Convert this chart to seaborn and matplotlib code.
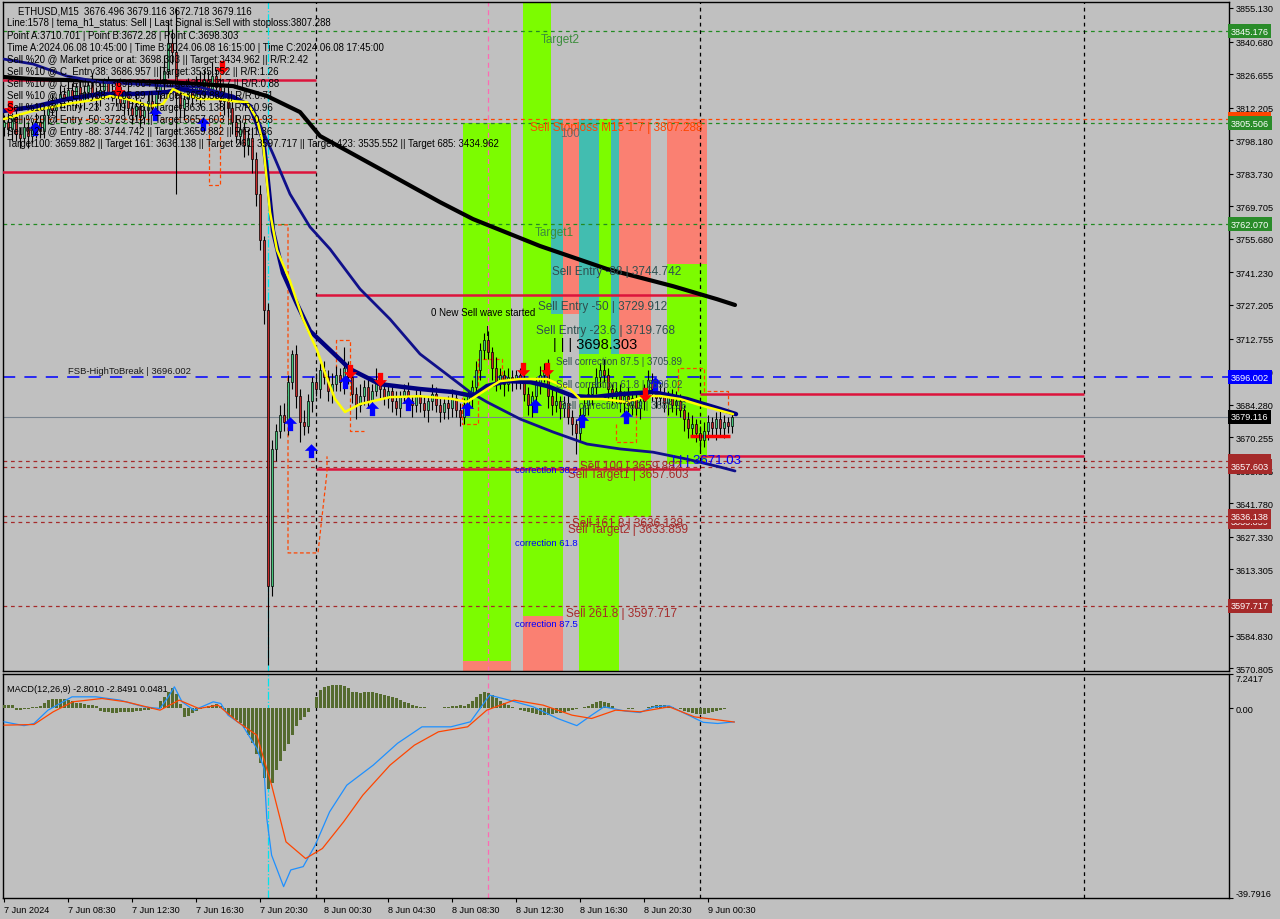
import numpy as np
import matplotlib
matplotlib.use("Agg")
import matplotlib.pyplot as plt
from matplotlib.patches import Rectangle
import matplotlib.transforms as mtrans
import seaborn as sns

sns.set_theme(style="ticks")
plt.rcParams["font.family"] = ["Liberation Sans", "DejaVu Sans"]

BG = "#C0C0C0"

# ---------------- data (ETHUSD M15, bar 0 = 7 Jun 04:30) ----------------
open0 = 3804.0
close = [
    3806, 3803, 3808, 3801, 3799, 3804, 3800, 3803, 3806, 3802,
    3809, 3813, 3811, 3815, 3818, 3816, 3820, 3817, 3821, 3815,
    3819, 3822, 3818, 3816, 3820, 3823, 3819, 3817, 3821, 3814,
    3818, 3812, 3809, 3813, 3808, 3811, 3815, 3812, 3818, 3822,
    3828, 3840, 3836, 3818, 3812, 3816, 3820, 3817, 3822, 3818,
    3824, 3820, 3826, 3821, 3815, 3818, 3812, 3806, 3800, 3803,
    3796, 3799, 3790, 3775, 3755, 3725, 3606, 3665, 3673, 3680,
    3677, 3694, 3706, 3688, 3677, 3675, 3686, 3694, 3691, 3699,
    3696, 3690, 3693, 3697, 3694, 3700, 3696, 3689, 3684, 3688,
    3692, 3686, 3690, 3695, 3691, 3687, 3690, 3686, 3683, 3688,
    3690, 3686, 3684, 3688, 3685, 3682, 3686, 3689, 3684, 3681,
    3685, 3683, 3687, 3682, 3679, 3684, 3688, 3692, 3699, 3708,
    3712, 3707, 3700, 3694, 3697, 3693, 3696, 3694, 3697, 3695,
    3689, 3684, 3688, 3693, 3697, 3699, 3688, 3684, 3686, 3683,
    3685, 3679, 3676, 3672, 3680, 3684, 3689, 3692, 3696, 3699,
    3697, 3691, 3688, 3690, 3685, 3688, 3684, 3687, 3683, 3686,
    3690, 3695, 3691, 3687, 3689, 3685, 3688, 3684, 3686, 3682,
    3678, 3674, 3676, 3672, 3669, 3673, 3677, 3674, 3678, 3674,
    3677, 3675, 3679.116,
]
wick_up = [
    3, 4, 2, 5, 3, 4, 2, 3, 4, 3, 4, 3, 5, 2, 4, 3, 5, 3, 2, 4,
    3, 2, 5, 3, 4, 2, 3, 5, 3, 4, 2, 4, 3, 5, 3, 2, 4, 3, 6, 8,
    7, 10, 6, 19, 4, 3, 5, 3, 4, 6, 5, 4, 6, 3, 4, 3, 5, 4, 3, 4,
    3, 4, 5, 3, 4, 2, 3, 4, 3, 4, 5, 3, 2, 4, 3, 5, 3, 2, 4, 3,
    4, 3, 5, 4, 3, 9, 3, 4, 3, 5, 3, 4, 3, 5, 2, 4, 3, 3, 4, 2,
    3, 4, 2, 3, 4, 3, 2, 4, 3, 3, 2, 3, 4, 2, 3, 3, 2, 3, 4, 3,
    3, 4, 2, 5, 3, 2, 4, 3, 2, 3, 4, 3, 2, 3, 4, 3, 5, 3, 4, 2,
    3, 4, 3, 2, 3, 4, 3, 2, 4, 3, 5, 3, 2, 4, 3, 2, 4, 3, 3, 2,
    3, 4, 3, 2, 4, 3, 2, 3, 4, 3, 2, 3, 4, 2, 3, 4, 3, 2, 3, 4,
    3, 2, 2,
]
wick_dn = [
    4, 3, 5, 3, 4, 2, 5, 3, 4, 3, 3, 4, 2, 5, 3, 4, 2, 3, 5, 3,
    4, 3, 2, 5, 3, 4, 3, 2, 4, 3, 5, 3, 4, 2, 4, 3, 5, 3, 4, 3,
    4, 3, 5, 43, 4, 5, 3, 4, 2, 5, 3, 4, 2, 5, 3, 6, 4, 5, 3, 4,
    5, 4, 6, 5, 4, 6, 34, 4, 5, 3, 4, 6, 3, 5, 9, 4, 3, 5, 3, 4,
    3, 4, 5, 3, 4, 5, 3, 4, 6, 3, 4, 3, 5, 2, 4, 3, 4, 5, 3, 4,
    3, 4, 5, 3, 4, 3, 5, 4, 3, 4, 3, 5, 4, 3, 4, 3, 4, 5, 3, 4,
    4, 3, 5, 4, 3, 5, 3, 4, 3, 4, 3, 4, 5, 3, 4, 3, 5, 4, 3, 5,
    4, 3, 5, 9, 4, 3, 4, 5, 3, 4, 3, 5, 4, 3, 4, 5, 3, 4, 3, 5,
    4, 3, 5, 4, 3, 4, 5, 3, 4, 3, 5, 4, 3, 4, 5, 3, 4, 3, 5, 3,
    4, 3, 3,
]

# indicator lines, read as (bar, price) knots
yellow_bar = [0, 7.25, 15.75, 24, 26.5, 30.75, 36.5, 39.75, 42.25, 44.75, 49, 54, 57.25,
              60.75, 63.25, 64.75, 66.5, 68.25, 71.5, 74.75, 78.25, 80.25, 82.75, 85.25,
              89, 96.5, 104, 112.25, 115.75, 120.75, 124, 129, 135.75, 141.5, 144,
              149.75, 155.75, 160.75, 164, 169, 174.75, 182.25]
yellow_val = [3807.3, 3810.8, 3813.8, 3815.9, 3817.2, 3815.9, 3812.9, 3813.8, 3820.2, 3818.1,
              3815.9, 3815.9, 3815.0, 3814.6, 3807.3, 3797.0, 3767.2, 3750.9, 3737.5, 3721.1,
              3707.8, 3697.9, 3686.7, 3681.1, 3684.5, 3687.5, 3687.9, 3686.7, 3685.4, 3691.0,
              3694.4, 3695.3, 3695.3, 3691.0, 3686.7, 3686.7, 3685.4, 3688.0, 3688.0, 3686.7,
              3683.7, 3680.2]
navy_fast_bar = [0, 7.25, 15.75, 24, 32.25, 40.75, 44, 49, 57.25, 61.5, 64.75, 65.75, 67.25,
                 69.75, 73.25, 76.5, 81.5, 86.5, 94, 104, 112.25, 117.25, 120.75, 125.75,
                 131.5, 135.75, 142.25, 147.25, 154, 162.25, 170.75, 179, 183]
navy_fast_val = [3810.8, 3812.5, 3815.9, 3818.1, 3818.1, 3818.9, 3820.2, 3818.9, 3816.8, 3812.9,
                 3798.7, 3784.5, 3759.0, 3741.0, 3727.6, 3716.0, 3707.8, 3699.6, 3693.1, 3691.0,
                 3689.7, 3688.0, 3692.3, 3694.4, 3694.0, 3692.3, 3688.0, 3687.5, 3688.8, 3689.7,
                 3686.7, 3682.4, 3680.2]
navy_slow_bar = [0, 7.25, 15.75, 24, 32.25, 40.75, 49, 57.25, 62.25, 67.25, 71.5, 76.5, 81.5,
                 89, 96.5, 104, 112.25, 116.5, 120.75, 129, 137.25, 145.75, 154, 162.25,
                 170.75, 179, 182.75]
navy_slow_val = [3833.1, 3831.0, 3825.8, 3823.2, 3822.4, 3821.5, 3821.1, 3817.2, 3811.6, 3792.2,
                 3775.0, 3760.8, 3751.3, 3734.1, 3721.1, 3706.1, 3695.3, 3689.7, 3685.4, 3678.1,
                 3672.5, 3667.3, 3665.2, 3663.8, 3660.8, 3657.4, 3655.7]
black_bar = [0, 7.25, 24, 40.75, 57.25, 65.75, 74, 79, 94, 109, 117.25, 134, 150.75, 167.25,
             178.25, 182.75]
black_val = [3825.4, 3824.5, 3823.7, 3823.2, 3821.5, 3817.2, 3810.3, 3800.0, 3785.8, 3771.5,
             3764.2, 3752.6, 3742.7, 3735.3, 3729.7, 3727.2]

# signal arrows (bar, price)
sell_bar = [1.5, 28.5, 54.5, 86.5, 94, 129.75, 135.75, 160.25]
sell_val = [3812.5, 3820.2, 3829.7, 3698.7, 3695.3, 3699.6, 3699.6, 3688.9]
buy_bar = [7.75, 37.75, 49.75, 71.5, 76.75, 85.25, 92, 101, 115.75, 132.75, 144.5, 155.5, 162.75]
buy_val = [3803.0, 3809.5, 3805.2, 3675.9, 3664.3, 3694.0, 3682.4, 3684.6, 3682.4, 3683.7,
           3677.2, 3679.0, 3693.2]

# levels
green_levels = [3845.176, 3805.506, 3762.070]
stop_level = 3807.288
brown_levels = [3659.882, 3657.603, 3636.138, 3633.859, 3597.717]
fsb_level = 3696.002
last_price = 3679.116
# daily high / low segments: start bar, end bar, price
day_start = [-2, -2, 78, 78, 174, 174]
day_end = [78, 78, 174, 174, 270, 270]
day_price = [3824.1, 3784.5, 3731.5, 3656.5, 3688.8, 3662.1]

# zones: left bar, right bar, bottom price, top price
lime_zones = [(114.75, 126.75, 3573.8, 3805.6), (129.75, 136.75, 3593.2, 3858.0),
              (136.75, 139.75, 3593.2, 3723.3), (143.75, 148.75, 3569.0, 3706.1),
              (148.75, 153.75, 3569.0, 3807.3), (153.75, 161.75, 3635.9, 3706.1),
              (165.75, 175.75, 3658.7, 3744.9)]
salmon_zones = [(114.75, 126.75, 3569.0, 3573.8), (129.75, 139.75, 3569.0, 3593.2),
                (139.75, 143.75, 3723.3, 3807.3), (153.75, 161.75, 3706.1, 3807.3),
                (165.75, 175.75, 3744.9, 3807.3)]
teal_zones = [(136.75, 139.75, 3723.3, 3807.3), (143.75, 148.75, 3706.1, 3807.3),
              (151.75, 153.75, 3706.1, 3807.3)]

# zigzag boxes (bar, price)
zig_lines = [
    ([51.25, 51.25, 54, 54], [3806, 3778.9, 3778.9, 3833]),
    ([68.5, 71, 71, 78.5, 80.75, 80.75], [3761.7, 3761.7, 3620.4, 3620.4, 3655.3, 3662]),
    ([83, 83, 86.5, 86.5, 90], [3700, 3712, 3712, 3673, 3673]),
    ([114.5, 114.5, 118.5, 118.5, 124.5, 124.5], [3690, 3676, 3676, 3704, 3704, 3694]),
    ([153, 153, 158, 158], [3676, 3668, 3668, 3690]),
    ([168.5, 168.5, 175, 175, 181, 181], [3690, 3700, 3700, 3690, 3690, 3683]),
]

vline_black = [78, 174, 270]
vline_cyan = 66
vline_pink = 121

# MACD
macd_hist = [
    0.8, 0.8, 0.7, -0.3, -0.3, -0.2, -0.2, 0.3, 0.35, 0.5,
    1.2, 1.8, 2.0, 2.0, 2.0, 2.0, 1.8, 1.5, 1.2, 1.1,
    1.0, 0.8, 0.7, 0.5, -0.5, -0.8, -0.8, -0.9, -0.9, -0.8,
    -0.8, -0.8, -0.7, -0.6, -0.5, -0.4, -0.3, -0.2, 0.2, 1.5,
    2.5, 3.5, 4.2, 3.0, 1.0, -1.7, -1.5, -1.0, -0.6, -0.2,
    0.3, 0.6, 0.8, 1.0, 0.5, -0.3, -1.4, -2.0, -2.4, -3.0,
    -4.0, -5.5, -7.3, -9.5, -11.5, -14.5, -16.8, -15.6, -13.0, -11.0,
    -9.0, -7.5, -5.5, -3.6, -2.5, -1.8, -0.8, 0.2, 2.4, 3.8,
    4.5, 4.8, 4.9, 5.0, 5.0, 4.8, 4.2, 3.5, 3.4, 3.2,
    3.4, 3.5, 3.4, 3.2, 3.0, 2.8, 2.7, 2.5, 2.1, 1.8,
    1.4, 1.1, 0.7, 0.6, 0.4, 0.4, 0.2, 0.2, 0.1, 0.2,
    0.3, 0.4, 0.5, 0.6, 0.8, 0.6, 1.0, 1.6, 2.4, 3.0,
    3.5, 3.3, 2.8, 2.1, 1.6, 1.1, 0.7, 0.4, 0.0, -0.3,
    -0.6, -0.8, -1.0, -1.2, -1.4, -1.4, -1.3, -1.2, -1.0, -0.9,
    -0.8, -0.6, -0.4, -0.2, 0.0, 0.3, 0.5, 0.9, 1.4, 1.5,
    1.4, 1.1, 0.6, 0.2, 0.1, 0.0, -0.1, -0.1, 0.0, 0.1,
    0.2, 0.4, 0.5, 0.7, 0.8, 0.7, 0.5, 0.3, 0.1, -0.2,
    -0.5, -0.8, -1.0, -1.2, -1.2, -1.1, -1.0, -0.8, -0.6, -0.4,
    -0.2, 0.0, 0.05,
]
macd_bar = [0, 5, 7.5, 11, 17, 23, 29, 35, 39, 40.8, 42.6, 44.5, 47.5, 52.3, 54.2, 56, 59.6,
            63.2, 65, 65.7, 66.9, 69.9, 71.7, 74.8, 77.8, 81.4, 85.7, 92.3, 98.4, 104.5,
            111.7, 116.6, 119, 121.4, 126.3, 132.3, 138.4, 143.2, 146.9, 150, 155.4, 159,
            162.6, 166.3, 171.1, 174.8, 178.4, 182.6]
macd_val = [-2.8, -3.6, -3.15, -0.35, 2.45, 2.45, 1.75, 0.35, 0, 2.1, 4.55, 1.4, -0.35, 1.4,
            1.05, -1.4, -3.5, -8.4, -12.6, -23.1, -30.8, -37.4, -33.9, -33.2, -28.7, -21.7,
            -16.1, -11.9, -7.3, -3.85, -3.85, -2.8, 0, 2.8, 1.75, 0.35, -2.1, -3.6, -1.4,
            0.35, -0.56, -0.84, 0.35, 0.56, -1.4, -2.9, -3.15, -2.801]
signal_bar = [0, 7.5, 12.3, 17.2, 24.5, 30.5, 39, 43.8, 48.7, 53.5, 58.4, 63.2, 66.9, 70.5,
              75.4, 79.6, 84.9, 89.7, 96.5, 102.6, 108.6, 115.9, 120.7, 127.5, 134.8, 142,
              146.9, 152.9, 159, 166.3, 172.6, 182.6]
signal_val = [-3.5, -3.36, -0.7, 1.4, 2.1, 1.4, -0.35, 1.75, 0, 0.7, -2.8, -5.6, -16.1, -28.0,
              -31.5, -29.4, -23.8, -18.2, -11.9, -7.7, -4.9, -3.85, -0.35, 1.75, 0.7, -1.4,
              -2.1, -0.35, -0.7, 0.35, -1.75, -2.849]

price_ticks = [3855.130, 3840.680, 3826.655, 3812.205, 3798.180, 3783.730, 3769.705,
               3755.680, 3741.230, 3727.205, 3712.755, 3698.730, 3684.280, 3670.255,
               3655.805, 3641.780, 3627.330, 3613.305, 3598.855, 3584.830, 3570.805]
time_ticks = [0, 16, 32, 48, 64, 80, 96, 112, 128, 144, 160, 176]
time_labels = ["7 Jun 2024", "7 Jun 08:30", "7 Jun 12:30", "7 Jun 16:30", "7 Jun 20:30",
               "8 Jun 00:30", "8 Jun 04:30", "8 Jun 08:30", "8 Jun 12:30", "8 Jun 16:30",
               "8 Jun 20:30", "9 Jun 00:30"]

info_lines = [
    "Line:1578 | tema_h1_status: Sell | Last Signal is:Sell with stoploss:3807.288",
    "Point A:3710.701 | Point B:3672.28 | Point C:3698.303",
    "Time A:2024.06.08 10:45:00 | Time B:2024.06.08 16:15:00 | Time C:2024.06.08 17:45:00",
    "Sell %20 @ Market price or at: 3698.303 || Target:3434.962 || R/R:2.42",
    "Sell %10 @ C_Entry38: 3686.957 || Target:3535.552 || R/R:1.26",
    "Sell %10 @ C_Entry61: 3696.004 || Target:3597.717 || R/R:0.88",
    "Sell %10 @ C_Entry88: 3705.89 || Target:3659.882 || R/R:0.71",
    "Sell %10 @ Entry -23: 3719.768 || Target:3636.138 || R/R:0.96",
    "Sell %20 @ Entry -50: 3729.912 || Target:3657.603 || R/R:0.93",
    "Sell %20 @ Entry -88: 3744.742 || Target:3659.882 || R/R:1.36",
    "Target100: 3659.882 || Target 161: 3636.138 || Target 261: 3597.717 || Target 423: 3535.552 || Target 685: 3434.962",
]

# ---------------- figure ----------------
W, H = 1280, 920
fig = plt.figure(figsize=(12.8, 9.2), dpi=100, facecolor=BG)


def px_box(x0, y0, x1, y1):
    return [x0 / W, 1 - y1 / H, (x1 - x0) / W, (y1 - y0) / H]


ax = fig.add_axes(px_box(3, 3, 1229, 672), facecolor=BG)
axm = fig.add_axes(px_box(3, 675, 1229, 899), facecolor=BG)
XL = (-0.25, 306.25)

# zones
for zones, col in [(lime_zones, "#7CFC00"), (salmon_zones, "#FA8072"), (teal_zones, "#42BDB0")]:
    for x0, x1, b, t in zones:
        ax.add_patch(Rectangle((x0, b), x1 - x0, t - b, color=col, lw=0, zorder=1))

# horizontal levels
for lv in green_levels:
    ax.axhline(lv, color="#228B22", ls=(0, (3, 3)), lw=0.9, zorder=2)
ax.axhline(stop_level, color="#FF4500", ls=(0, (3, 3)), lw=0.9, zorder=2)
for lv in brown_levels:
    ax.axhline(lv, color="#A52A2A", ls=(0, (3, 3)), lw=0.9, zorder=2)
ax.axhline(fsb_level, color="#0000FF", ls=(0, (8, 6)), lw=1.1, zorder=2)
ax.axhline(last_price, color="#7A8590", lw=0.8, zorder=2)
ax.hlines(day_price, day_start, day_end, color="#DC143C", lw=1.8, zorder=3)
ax.hlines(3670.8, 171.5, 181.5, color="#FF0000", lw=2.5, zorder=6)

# vertical separators
for a in (ax, axm):
    for v in vline_black:
        a.axvline(v, color="black", ls=(0, (3, 3)), lw=0.9, zorder=2)
    a.axvline(vline_cyan, color="#00E5EE", ls="-.", lw=0.9, zorder=2)
    a.axvline(vline_pink, color="#FF69B4", ls=(0, (4, 3)), lw=0.9, zorder=2)

# zigzag boxes
for zb, zp in zig_lines:
    ax.plot(zb, zp, color="#FF4500", ls=(0, (3, 2)), lw=0.9, zorder=4)

# candles
idx = np.arange(len(close))
c = np.array(close, dtype=float)
o = np.concatenate([[open0], c[:-1]])
hi = np.maximum(o, c) + np.array(wick_up)
lo = np.minimum(o, c) - np.array(wick_dn)
ax.vlines(idx, lo, hi, color="black", lw=0.8, zorder=5)
body = c - o
body = np.where(np.abs(body) < 0.4, 0.4, body)
cols = np.where(c >= o, "#46C47C", "#C62828")
ax.bar(idx, body, bottom=o, width=0.66, color=cols, edgecolor="black", linewidth=0.5, zorder=6)

# moving averages
sns.lineplot(x=black_bar, y=black_val, ax=ax, color="black", lw=3.0, zorder=7, estimator=None, sort=False)
sns.lineplot(x=navy_slow_bar, y=navy_slow_val, ax=ax, color="#10108A", lw=2.0, zorder=7, estimator=None, sort=False)
sns.lineplot(x=navy_fast_bar, y=navy_fast_val, ax=ax, color="#000080", lw=3.2, zorder=8, estimator=None, sort=False)
sns.lineplot(x=yellow_bar, y=yellow_val, ax=ax, color="#FFFF00", lw=1.8, zorder=9, estimator=None, sort=False)

# arrows
up_arrow = [(-0.2, -0.5), (0.2, -0.5), (0.2, 0.05), (0.5, 0.05), (0, 0.55), (-0.5, 0.05), (-0.2, 0.05)]
dn_arrow = [(x, -y) for x, y in up_arrow]
ax.scatter(buy_bar, buy_val, marker=up_arrow, s=110, color="#0000FF", zorder=10, lw=0)
ax.scatter(sell_bar, sell_val, marker=dn_arrow, s=110, color="#FF0000", zorder=10, lw=0)

# chart texts
TC = "#2F4F4F"
ax.text(134.25, 3841.8, "Target2", color="#3C8C3C", fontsize=8.5, va="center", zorder=11)
ax.text(132.75, 3758.6, "Target1", color="#3C8C3C", fontsize=8.5, va="center", zorder=11)
ax.text(131.5, 3803.9, "Sell Stoploss M15 1.7 | 3807.288", color="#FF4500", fontsize=8.5, va="center", zorder=11)
ax.text(139, 3801.3, "100", color="#6B6B6B", fontsize=8.5, va="center", zorder=11)
ax.text(137, 3741.8, "Sell Entry -88 | 3744.742", color=TC, fontsize=8.5, va="center", zorder=11)
ax.text(133.5, 3726.8, "Sell Entry -50 | 3729.912", color=TC, fontsize=8.5, va="center", zorder=11)
ax.text(133, 3716.4, "Sell Entry -23.6 | 3719.768", color=TC, fontsize=8.5, va="center", zorder=11)
ax.text(137.25, 3710.4, "| | | 3698.303", color="black", fontsize=10.5, va="center", zorder=11)
ax.text(106.75, 3724.2, "0 New Sell wave started", color="black", fontsize=7, va="center", zorder=11)
ax.text(120.5, 3716.4, "|", color="black", fontsize=8, va="center", zorder=11)
ax.text(138, 3703.1, "Sell correction 87.5 | 3705.89", color=TC, fontsize=7, va="center", zorder=11)
ax.text(138, 3693.2, "Sell correction 61.8 | 3696.02", color=TC, fontsize=7, va="center", zorder=11)
ax.text(139, 3684.1, "Sell correction 38.2 | 3686.96", color=TC, fontsize=7, va="center", zorder=11)
ax.text(16, 3698.8, "FSB-HighToBreak | 3696.002", color="#1A1A1A", fontsize=6.8, va="center", zorder=11)
ax.text(167, 3660.4, "| | | 3671.03", color="#0000FF", fontsize=9.5, va="center", zorder=11)
ax.text(127.75, 3656.5, "correction 38.2", color="#0000FF", fontsize=6.8, va="center", zorder=11)
ax.text(144, 3657.8, "Sell 100 | 3659.882", color="#A52A2A", fontsize=8.5, va="center", zorder=11)
ax.text(141, 3654.4, "Sell Target1 | 3657.603", color="#A52A2A", fontsize=8.5, va="center", zorder=11)
ax.text(142, 3633.3, "Sell 161.8 | 3636.138", color="#A52A2A", fontsize=8.5, va="center", zorder=11)
ax.text(141, 3630.7, "Sell Target2 | 3633.859", color="#A52A2A", fontsize=8.5, va="center", zorder=11)
ax.text(127.75, 3624.7, "correction 61.8", color="#0000FF", fontsize=6.8, va="center", zorder=11)
ax.text(140.5, 3594.5, "Sell 261.8 | 3597.717", color="#A52A2A", fontsize=8.5, va="center", zorder=11)
ax.text(127.75, 3590.2, "correction 87.5", color="#0000FF", fontsize=6.8, va="center", zorder=11)

# info block (top-left)
fig.text(18 / W, 1 - 11 / H, "ETHUSD,M15  3676.496 3679.116 3672.718 3679.116", fontsize=6.9,
         va="center", color="black", zorder=12)
for k, s in enumerate(info_lines):
    fig.text(7 / W, 1 - (23.5 + 12.05 * k) / H, s, fontsize=6.9, va="center", color="black", zorder=12)

# axes cosmetics: main
ax.set_xlim(*XL)
ax.set_ylim(3569.54, 3857.71)
ax.yaxis.tick_right()
ax.set_yticks(price_ticks)
ax.set_yticklabels([f"{t:.3f}" for t in price_ticks], fontsize=6.6)
ax.tick_params(axis="y", direction="out", length=3, width=0.8, pad=2, colors="black")
ax.set_xticks([])
ax.set_xlabel("")
ax.set_ylabel("")
for sp in ax.spines.values():
    sp.set_color("black")
    sp.set_linewidth(1.0)

# price tags on the right axis
trans = mtrans.blended_transform_factory(ax.transAxes, ax.transData)
tags = [(stop_level, "#FF4500"), (3845.176, "#2A8C2A"), (3805.506, "#2A8C2A"),
        (3762.070, "#2A8C2A"), (fsb_level, "#0000FF"), (last_price, "#000000"),
        (3659.882, "#A52A2A"), (3657.603, "#A52A2A"), (3633.859, "#A52A2A"),
        (3636.138, "#A52A2A"), (3597.717, "#A52A2A")]
for val, colr in tags:
    ax.text(1.0015, val, f"{val:.3f}", transform=trans, ha="left", va="center", fontsize=6.6,
            color="white", clip_on=False, zorder=20,
            bbox=dict(boxstyle="square,pad=0.28", fc=colr, ec="none"))

# MACD pane
axm.bar(idx, macd_hist, width=0.75, color="#556B2F", edgecolor="#556B2F", linewidth=0, zorder=3)
sns.lineplot(x=macd_bar, y=macd_val, ax=axm, color="#1E90FF", lw=0.9, zorder=4, estimator=None, sort=False)
sns.lineplot(x=signal_bar, y=signal_val, ax=axm, color="#FF4500", lw=0.9, zorder=4, estimator=None, sort=False)
axm.set_xlim(*XL)
axm.set_ylim(-39.7916, 7.2417)
axm.yaxis.tick_right()
axm.set_yticks([-39.7916, 0.0, 7.2417])
ylabs = axm.set_yticklabels(["-39.7916", "0.00", "7.2417"], fontsize=6.6)
ylabs[0].set_va("bottom")
ylabs[2].set_va("top")
axm.tick_params(axis="y", direction="out", length=3, width=0.8, pad=2, colors="black")
axm.set_xticks(time_ticks)
xlabs = axm.set_xticklabels(time_labels, fontsize=6.6)
for lb in xlabs:
    lb.set_ha("left")
axm.tick_params(axis="x", direction="out", length=3, width=0.8, pad=2, colors="black")
axm.set_xlabel("")
axm.set_ylabel("")
for sp in axm.spines.values():
    sp.set_color("black")
    sp.set_linewidth(1.0)
axm.text(0.003, 0.955, "MACD(12,26,9) -2.8010 -2.8491 0.0481", transform=axm.transAxes,
         fontsize=6.6, va="top", ha="left", color="black")

fig.savefig("out.png", dpi=100, facecolor=BG)
